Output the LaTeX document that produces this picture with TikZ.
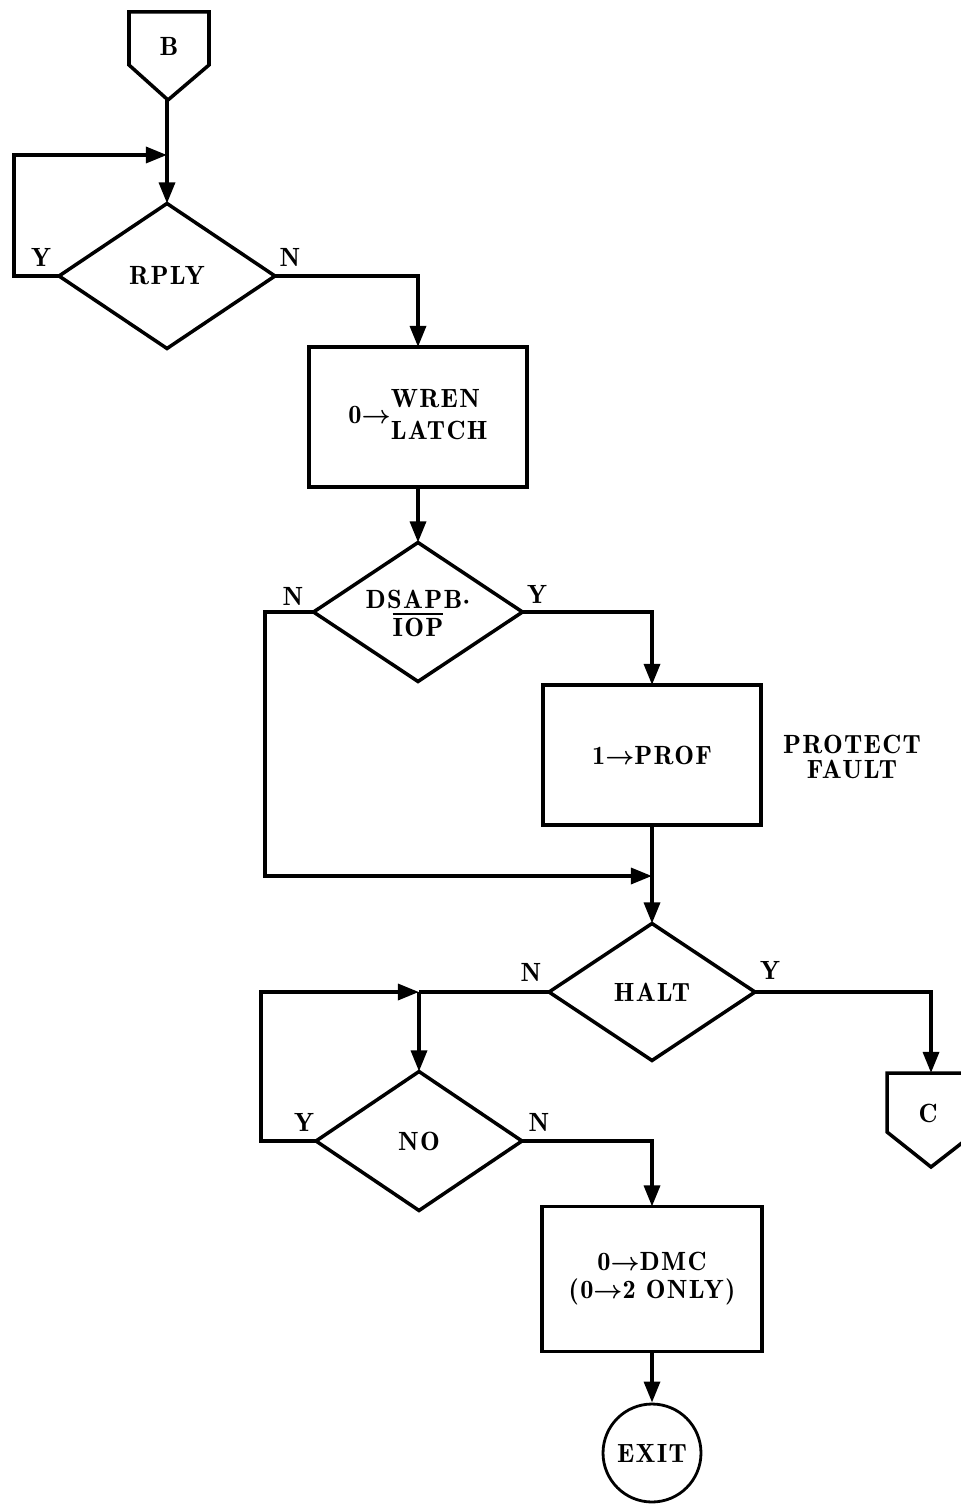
\documentclass[tikz,border=0pt]{standalone}
\usepackage{fontspec}
\setmainfont{lmromandemi10-regular}[Extension=.otf,LetterSpace=5]
\usetikzlibrary{arrows.meta,shapes.geometric}
\newcommand{\toar}{{\boldmath$\rightarrow$}}
\newcommand{\ovl}[1]{\leavevmode\vbox{\hrule height 1.3pt\kern1.6pt\hbox{#1}}}
\begin{document}
\begin{tikzpicture}[x=0.02cm,y=-0.02cm,
  every node/.style={font=\fontsize{15}{18}\selectfont},
  flow/.style={line width=2.2pt,-{Triangle[length=12pt,width=9pt]}},
  plainline/.style={line width=2.2pt},
  dec/.style={draw,diamond,line width=2pt,inner sep=0pt,outer sep=0pt},
  proc/.style={draw,rectangle,line width=2pt,minimum width=4.36cm,minimum height=2.8cm,outer sep=0pt,align=center},
  offpage/.style={line width=2pt,line join=miter},
  lab/.style={inner sep=0pt}]
\useasboundingbox (0,0) rectangle (960,1506);

% off-page connector B
\draw[offpage] (129,12) -- (209,12) -- (209,65) -- (168,100) -- (129,65) -- cycle;
\node[lab] (B) at (169,46) {B};
\coordinate (Btip) at (167,100);

% RPLY
\node[dec,minimum width=4.32cm,minimum height=2.9cm] (rply) at (167,276) {RPLY};
\coordinate (j1) at (167,155);
\draw[flow] (Btip) -- (rply.north);
\draw[flow] (rply.west) -- (14,276) -- (14,155) -- (j1);
\node[lab] (ry) at (41,257) {Y};
\node[lab] (rn) at (290,257) {N};

% WREN LATCH
\node[proc] (wren) at (418,417) {0\toar\begin{tabular}{@{}l@{}}WREN\\LATCH\end{tabular}};
\draw[flow] (rply.east) -| (wren.north);

% DSAPB . IOP
\node[dec,minimum width=4.18cm,minimum height=2.78cm] (dsapb) at (418,612)
  {\makebox[0pt]{\raisebox{-6pt}[0pt][0pt]{\begin{tabular}{@{}c@{}}DSAPB{\boldmath$\cdot$}\\[-3pt]\ovl{IOP}\end{tabular}}}};
\draw[flow] (wren.south) -- (dsapb.north);
\node[lab] (dn) at (293,596) {N};
\node[lab] (dy) at (537,594) {Y};

% PROF
\node[proc] (prof) at (652,755) {1\toar PROF};
\node[lab,align=center] (pf) at (852,757) {PROTECT\\[-4pt]FAULT};
\draw[flow] (dsapb.east) -| (prof.north);

% HALT
\node[dec,minimum width=4.12cm,minimum height=2.74cm] (halt) at (652,992) {HALT};
\coordinate (j2) at (652,876);
\draw[flow] (prof.south) -- (halt.north);
\draw[flow] (dsapb.west) -- (265,612) -- (265,876) -- (j2);
\node[lab] (hn) at (531,972) {N};
\node[lab] (hy) at (770,970) {Y};

% NO
\node[dec,minimum width=4.12cm,minimum height=2.78cm] (no) at (419,1141) {NO};
\coordinate (j3) at (419,992);
\draw[plainline] (halt.west) -- (j3);
\draw[flow] (j3) -- (no.north);
\draw[flow] (no.west) -- (261,1141) -- (261,992) -- (j3);
\node[lab] (ny) at (304,1122) {Y};
\node[lab] (nn) at (539,1122) {N};

% C connector
\coordinate (Ctop) at (931,1073);
\draw[flow] (halt.east) -| (Ctop);
\draw[offpage] (887,1073) -- (976,1073) -- (976,1132) -- (931,1167) -- (887,1132) -- cycle;
\node[lab] (C) at (928,1113) {C};

% DMC
\node[proc,minimum width=4.4cm,minimum height=2.9cm] (dmc) at (652,1279)
  {0\toar DMC\\[-2pt](0\toar 2 ONLY)};
\draw[flow] (no.east) -| (dmc.north);

% EXIT
\node[draw,circle,line width=1.6pt,minimum size=1.96cm,inner sep=0pt] (exit) at (652,1453) {EXIT};
\draw[flow] (dmc.south) -- (exit.north);
\end{tikzpicture}
\end{document}
